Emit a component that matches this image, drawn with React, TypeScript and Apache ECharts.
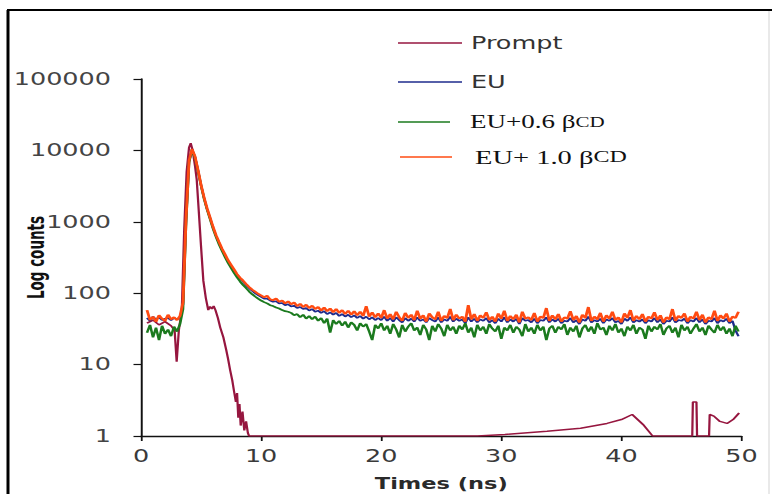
import React, { useEffect, useRef } from "react";
import * as echarts from "echarts";

// ---- data ----
// decay curves are sampled on a regular grid: t = T0 + i * DT (ns)
const T0 = 0.5;
const DT = 0.25;

const eu10Counts = [
  58, 42, 47, 40, 49, 44, 41, 50,
  43, 46, 42, 48, 75, 1100, 7200, 10500,
  8200, 5300, 3300, 2200, 1550, 1150, 850, 650,
  520, 420, 350, 290, 250, 215, 185, 165,
  150, 135, 122, 112, 105, 98, 93, 88,
  92, 82, 80, 84, 76, 79, 72, 77,
  70, 74, 66, 71, 64, 69, 62, 67,
  60, 64, 57, 63, 56, 61, 54, 60,
  53, 58, 51, 57, 50, 56, 49, 55,
  48, 66, 47, 54, 46, 52, 45, 58,
  44, 51, 43, 55, 46, 41, 53, 45,
  50, 42, 57, 44, 49, 40, 52, 46,
  43, 55, 41, 48, 45, 60, 42, 50,
  44, 47, 40, 68, 43, 51, 41, 49,
  45, 54, 42, 47, 40, 52, 44, 57,
  41, 48, 43, 50, 39, 55, 44, 46,
  42, 53, 40, 47, 45, 62, 41, 49,
  43, 51, 40, 46, 44, 56, 42, 48,
  39, 50, 45, 64, 41, 47, 43, 53,
  40, 49, 44, 55, 42, 46, 39, 52,
  45, 58, 41, 48, 43, 51, 40, 47,
  44, 54, 42, 49, 39, 46, 43, 60,
  41, 48, 45, 52, 40, 47, 44, 55,
  42, 50, 39, 46, 43, 57, 41, 49,
  44, 52, 40, 47, 45, 55,
];

const eu06Counts = [
  28, 36, 24, 33, 22, 35, 27, 31,
  25, 34, 29, 37, 60, 950, 6800, 10000,
  7900, 5100, 3200, 2100, 1480, 1090, 800, 610,
  480, 390, 320, 265, 225, 192, 166, 146,
  130, 118, 106, 97, 90, 84, 79, 75,
  72, 68, 66, 63, 61, 58, 56, 55,
  53, 49, 51, 46, 50, 44, 48, 43,
  47, 41, 45, 38, 44, 28, 42, 37,
  41, 35, 40, 33, 39, 36, 30, 38,
  34, 37, 29, 22, 36, 32, 38, 30,
  35, 27, 37, 31, 24, 36, 29, 34,
  38, 30, 33, 26, 36, 31, 22, 35,
  29, 37, 32, 25, 36, 30, 34, 27,
  35, 31, 38, 28, 33, 24, 36, 30,
  34, 27, 37, 32, 29, 35, 23, 33,
  30, 36, 28, 34, 31, 25, 37, 29,
  33, 27, 36, 30, 34, 22, 32, 35,
  28, 34, 31, 37, 26, 33, 29, 35,
  24, 32, 36, 29, 34, 27, 38, 31,
  33, 26, 35, 30, 37, 28, 32, 25,
  34, 30, 36, 27, 33, 31, 23, 35,
  29, 34, 31, 37, 26, 32, 35, 28,
  33, 24, 36, 30, 34, 27, 32, 37,
  29, 33, 26, 35, 31, 28, 36, 30,
  34, 27, 32, 25, 35, 29,
];

const euCounts = [
  45, 41, 47, 43, 46, 42, 44, 45,
  42, 45, 43, 46, 70, 1050, 7100, 10400,
  8100, 5250, 3270, 2170, 1520, 1130, 830, 635,
  505, 410, 340, 282, 242, 208, 180, 160,
  145, 130, 118, 108, 100, 94, 89, 84,
  84, 79, 76, 77, 72, 73, 68, 70,
  65, 67, 62, 64, 60, 62, 57, 60,
  55, 57, 53, 56, 51, 54, 50, 53,
  48, 51, 47, 50, 46, 49, 45, 48,
  44, 47, 43, 46, 42, 45, 42, 47,
  41, 45, 40, 46, 42, 39, 45, 41,
  44, 40, 46, 41, 43, 39, 45, 42,
  40, 46, 39, 43, 41, 47, 40, 44,
  41, 43, 38, 46, 40, 44, 39, 43,
  41, 45, 39, 42, 38, 44, 40, 46,
  39, 43, 40, 44, 37, 45, 41, 42,
  39, 44, 38, 42, 41, 46, 39, 43,
  40, 44, 38, 41, 40, 45, 39, 42,
  37, 43, 41, 47, 39, 42, 40, 44,
  38, 43, 41, 45, 39, 41, 37, 44,
  41, 46, 39, 42, 40, 43, 38, 42,
  40, 45, 39, 43, 37, 41, 40, 46,
  39, 42, 41, 44, 38, 42, 40, 45,
  39, 43, 37, 41, 40, 45, 38, 42,
  40, 44, 38, 41, 30, 25,
];

const promptTimes = [
  0.5, 1.0, 1.5, 2.0, 2.5, 2.8, 2.97, 3.15, 3.4, 3.6, 3.8, 4.0, 4.14, 4.3, 4.5,
  4.64, 4.8, 5.0, 5.19, 5.4, 5.6, 5.75, 5.9, 6.05, 6.2, 6.4, 6.6, 6.86, 7.1,
  7.25, 7.42, 7.6, 7.75, 7.9, 8.0, 8.1, 8.2, 8.3, 8.45, 8.6, 8.75, 8.9, 9.0,
  28, 30.3, 33.8, 36.6, 38.8, 40, 40.9, 41.8, 42.6, 45.9, 45.95, 46.25, 46.3,
  47.3, 47.35, 47.7, 48.2, 48.8, 49.3, 49.8,
];
const promptCounts = [
  38, 42, 36, 40, 35, 30, 11, 30, 60, 800, 5000, 11000, 12600, 10000, 6000,
  3900, 1500, 450, 150, 85, 58, 65, 60, 66, 58, 45, 33, 24, 16,
  12, 8.4, 6, 4.2, 3.0, 4.0, 1.8, 2.8, 1.4, 2.2, 1.2, 1.6, 1.1, 1,
  1, 1.05, 1.17, 1.28, 1.5, 1.7, 2.0, 1.45, 1, 1, 3.0, 3.0, 1,
  1, 2.0, 1.9, 1.6, 1.5, 1.7, 2.1,
];

const xTicks = [0, 10, 20, 30, 40, 50];
const yTicks = [1, 10, 100, 1000, 10000, 100000];
const seriesNames = ["Prompt", "EU", "EU+0.6 βCD", "EU+ 1.0 βCD"];
const seriesColors = ["#96163F", "#1E2B8C", "#1B7A1E", "#FF4B12"];

// ---- layout: the reference is horizontally stretched; draw at 1/S width and stretch ----
const S = 1.5;
const W = 772 / S;
const H = 494;
const rx = (x: number) => x / S; // reference x pixel -> unstretched

function gridSeries(values: number[]) {
  return values.map((v, i) => [T0 + i * DT, v]);
}

export default function App() {
  const ref = useRef<HTMLDivElement>(null);

  useEffect(() => {
    if (!ref.current) return;
    const chart = echarts.init(ref.current, undefined, { renderer: "svg" });

    const promptData = promptTimes.map((t, i) => [t, promptCounts[i]]);
    const datasets = [promptData, gridSeries(euCounts), gridSeries(eu06Counts), gridSeries(eu10Counts)];
    const widths = [1.5, 1.6, 1.7, 1.9];

    const legendRows = [
      { y: 43, x1: 398, x2: 462, tx: 471, font: "DejaVu Sans, sans-serif", size: 17, fill: "#333", rich: 0 },
      { y: 82, x1: 398, x2: 462, tx: 471, font: "DejaVu Sans, sans-serif", size: 17, fill: "#333", rich: 0 },
      { y: 122, x1: 398, x2: 450, tx: 470, font: "'Liberation Serif', serif", size: 18, fill: "#111", rich: 14 },
      { y: 157, x1: 400, x2: 452, tx: 475, font: "'Liberation Serif', serif", size: 19, fill: "#111", rich: 16 },
    ];

    const graphic: any[] = [
      // frame
      { type: "line", shape: { x1: rx(8), y1: 10, x2: rx(8), y2: H }, style: { stroke: "#000", lineWidth: 2 } },
      { type: "line", shape: { x1: rx(7), y1: 10, x2: W, y2: 10 }, style: { stroke: "#000", lineWidth: 2 } },
      { type: "line", shape: { x1: rx(769), y1: 11, x2: rx(769), y2: H }, style: { stroke: "#e2e2e2", lineWidth: 1 } },
    ];
    legendRows.forEach((r, i) => {
      graphic.push({
        type: "line",
        shape: { x1: rx(r.x1), y1: r.y, x2: rx(r.x2), y2: r.y },
        style: { stroke: seriesColors[i], lineWidth: 1.3 },
      });
      const name = seriesNames[i];
      const style: any = {
        fontFamily: r.font,
        fontSize: r.size,
        fill: r.fill,
        verticalAlign: "middle",
        align: "left",
      };
      if (r.rich) {
        // "CD" is set in small capitals in the reference
        style.text = name.replace("CD", "{s|CD}");
        style.rich = { s: { fontSize: r.rich, fontFamily: r.font, fill: r.fill, verticalAlign: "middle" } };
      } else {
        style.text = name;
      }
      graphic.push({ type: "text", x: rx(r.tx), y: r.y, style });
    });

    chart.setOption({
      animation: false,
      backgroundColor: "#fff",
      grid: {
        left: rx(141),
        right: W - rx(741),
        top: 79,
        bottom: H - 436,
        containLabel: false,
        outerBoundsMode: "none",
      },
      xAxis: {
        type: "value",
        min: xTicks[0],
        max: xTicks[xTicks.length - 1],
        interval: xTicks[1] - xTicks[0],
        axisLine: { show: true, lineStyle: { color: "#111", width: 1.3 } },
        axisTick: { show: true, length: 5, lineStyle: { color: "#111", width: 1.2 } },
        axisLabel: { fontFamily: "DejaVu Sans, sans-serif", fontSize: 17, color: "#3a3a3a", margin: 12 },
        splitLine: { show: false },
        name: "Times (ns)",
        nameLocation: "middle",
        nameGap: 40,
        nameMoveOverlap: false,
        nameTextStyle: { fontFamily: "DejaVu Sans, sans-serif", fontWeight: "bold", fontSize: 15, color: "#2a2a2a" },
      },
      yAxis: {
        type: "log",
        logBase: 10,
        min: yTicks[0],
        max: yTicks[yTicks.length - 1],
        splitNumber: yTicks.length - 1,
        axisLine: { show: true, lineStyle: { color: "#111", width: 1.3 } },
        axisTick: { show: true, length: 5, lineStyle: { color: "#111", width: 1.2 } },
        axisLabel: {
          fontFamily: "DejaVu Sans, sans-serif",
          fontSize: 17,
          color: "#444",
          margin: 20,
          formatter: (v: number) => String(Math.round(v)),
        },
        minorTick: { show: false },
        splitLine: { show: false },
        name: "Log counts",
        nameLocation: "middle",
        nameGap: 62,
        nameMoveOverlap: false,
        nameTextStyle: {
          fontFamily: "'Liberation Sans Narrow', 'DejaVu Sans Condensed', sans-serif",
          fontWeight: "bold",
          fontSize: 15,
          color: "#111",
        },
      },
      series: datasets.map((d, i) => ({
        type: "line",
        name: seriesNames[i],
        data: d,
        showSymbol: false,
        symbol: "none",
        silent: true,
        lineStyle: { color: seriesColors[i], width: widths[i] },
        z: 2 + i,
      })),
      graphic,
    });

    return () => chart.dispose();
  }, []);

  return (
    <div
      style={{
        position: "fixed",
        left: 0,
        top: 0,
        width: W,
        height: H,
        transform: `scaleX(${S})`,
        transformOrigin: "0 0",
        background: "#fff",
      }}
    >
      <div ref={ref} style={{ width: W, height: H }} />
    </div>
  );
}
